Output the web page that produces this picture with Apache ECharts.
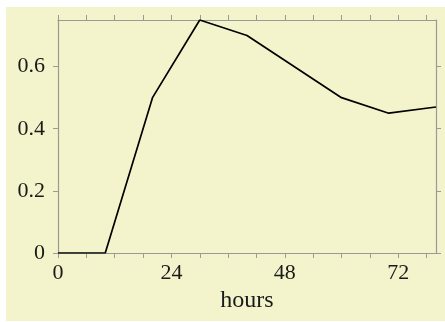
<!DOCTYPE html>
<html>
<head>
<meta charset="utf-8">
<script src="https://cdn.jsdelivr.net/npm/echarts@6/dist/echarts.min.js"></script>
<style>
html, body { margin: 0; padding: 0; background: #ffffff; width: 445px; height: 322px; overflow: hidden; }
#chart { position: absolute; left: 6px; top: 7px; width: 439px; height: 314px; }
</style>
</head>
<body>
<div id="chart"></div>
<script>
const hours = [0, 10, 20, 30, 40, 60, 70, 80];
const values = [0, 0, 0.5, 0.75, 0.70, 0.50, 0.45, 0.47];
const xTickLabels = [0, 24, 48, 72];
const xTickMarks = [0, 6, 12, 18, 24, 30, 36, 42, 48, 54, 60, 66, 72, 78];
const yTickLabels = [0, 0.2, 0.4, 0.6];
const xName = 'hours';

const axisGray = '#9a9a96';
const font = '"Liberation Serif", "DejaVu Serif", serif';

const chart = echarts.init(document.getElementById('chart'));
const common = {
  axisLine: { show: true, onZero: false, lineStyle: { color: axisGray, width: 1.2 } },
  splitLine: { show: false }
};
chart.setOption({
  animation: false,
  backgroundColor: '#f3f4cb',
  grid: { left: 52, right: 9, top: 13, bottom: 68, containLabel: false },
  xAxis: [
    Object.assign({
      type: 'value', min: 0, max: 80, position: 'bottom',
      name: xName, nameLocation: 'middle', nameGap: 35,
      nameTextStyle: { fontFamily: font, fontSize: 24, color: '#1a1a1a' },
      axisTick: { show: true, inside: false, length: 5, customValues: xTickMarks, lineStyle: { color: axisGray } },
      axisLabel: { show: true, customValues: xTickLabels, margin: 9, fontFamily: font, fontSize: 22, color: '#1a1a1a' }
    }, common),
    Object.assign({
      type: 'value', min: 0, max: 80, position: 'top',
      axisTick: { show: true, inside: false, length: 5, customValues: xTickMarks, lineStyle: { color: axisGray } },
      axisLabel: { show: false }
    }, common)
  ],
  yAxis: [
    Object.assign({
      type: 'value', min: 0, max: 0.75, position: 'left',
      axisTick: { show: true, inside: false, length: 5, customValues: yTickLabels, lineStyle: { color: axisGray } },
      axisLabel: { show: true, customValues: yTickLabels, margin: 13, fontFamily: font, fontSize: 22, color: '#1a1a1a' }
    }, common),
    Object.assign({
      type: 'value', min: 0, max: 0.75, position: 'right',
      axisTick: { show: true, inside: false, length: 5, customValues: yTickLabels, lineStyle: { color: axisGray } },
      axisLabel: { show: false }
    }, common)
  ],
  series: [{
    type: 'line',
    data: hours.map((h, i) => [h, values[i]]),
    xAxisIndex: 0, yAxisIndex: 0,
    showSymbol: false,
    lineStyle: { color: '#000000', width: 1.7 },
    z: 5
  }]
});
</script>
</body>
</html>
